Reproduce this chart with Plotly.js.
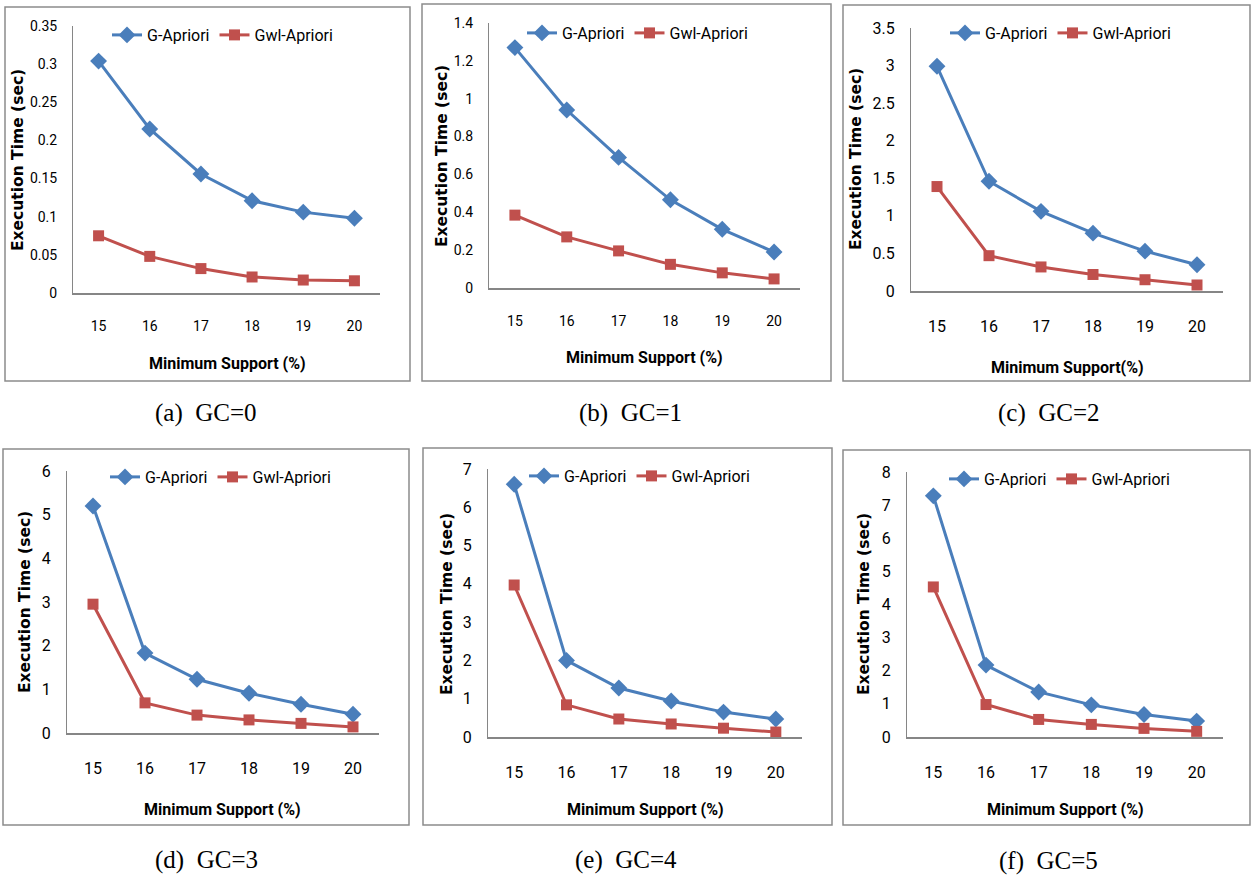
<!DOCTYPE html>
<html>
<head>
<meta charset="utf-8">
<script src="https://cdn.plot.ly/plotly-3.0.1.min.js"></script>
<style>html,body{margin:0;padding:0;background:#fff;}#chart{width:1252px;height:877px;}</style>
</head>
<body>
<div id="chart"></div>
<script>
// ---- data ----
const categories = ['15', '16', '17', '18', '19', '20'];
const seriesNames = ['G-Apriori', 'Gwl-Apriori'];
const captions = ['(a)  GC=0', '(b)  GC=1', '(c)  GC=2', '(d)  GC=3', '(e)  GC=4', '(f)  GC=5'];
const xTitles = ['Minimum Support (%)', 'Minimum Support (%)', 'Minimum Support(%)', 'Minimum Support (%)', 'Minimum Support (%)', 'Minimum Support (%)'];
const yTitle = 'Execution Time (sec)';

const gc0_G   = [0.304, 0.215, 0.156, 0.121, 0.106, 0.098];
const gc0_Gwl = [0.075, 0.048, 0.032, 0.021, 0.017, 0.016];
const gc1_G   = [1.27, 0.94, 0.69, 0.466, 0.31, 0.19];
const gc1_Gwl = [0.385, 0.27, 0.196, 0.125, 0.08, 0.048];
const gc2_G   = [2.99, 1.46, 1.06, 0.77, 0.53, 0.35];
const gc2_Gwl = [1.39, 0.47, 0.32, 0.22, 0.15, 0.08];
const gc3_G   = [5.2, 1.83, 1.23, 0.91, 0.66, 0.43];
const gc3_Gwl = [2.95, 0.69, 0.41, 0.3, 0.22, 0.14];
const gc4_G   = [6.6, 2.0, 1.28, 0.94, 0.65, 0.47];
const gc4_Gwl = [3.97, 0.84, 0.47, 0.34, 0.23, 0.13];
const gc5_G   = [7.28, 2.17, 1.36, 0.97, 0.68, 0.48];
const gc5_Gwl = [4.53, 0.98, 0.53, 0.38, 0.26, 0.17];

const yMax  = [0.35, 1.4, 3.5, 6, 7, 8];
const yStep = [0.05, 0.2, 0.5, 1, 1, 1];

const gSeries   = [gc0_G, gc1_G, gc2_G, gc3_G, gc4_G, gc5_G];
const gwlSeries = [gc0_Gwl, gc1_Gwl, gc2_Gwl, gc3_Gwl, gc4_Gwl, gc5_Gwl];

// ---- layout geometry (pixels) ----
const W = 1252, H = 877;
const panels = [
  {plot:[73,26,380,293],   box:[5,7,410,381],     leg:[107,35],  yt:[18,160],  xt:[227,363], cap:[206,413], tf:14},
  {plot:[489,23,800,288],  box:[422,4,831,381],   leg:[522,33],  yt:[442,156], xt:[644,357], cap:[630,413], tf:14},
  {plot:[911,28,1223,291], box:[843,5,1250,381],  leg:[945,33],  yt:[856,159], xt:[1067,367],cap:[1049,413],tf:16},
  {plot:[67,471,379,733],  box:[3,449,409,825],   leg:[105,477], yt:[25,602],  xt:[222,809], cap:[206,860], tf:16},
  {plot:[488,469,802,737], box:[423,448,832,825], leg:[524,476], yt:[447,604], xt:[645,809], cap:[626,860], tf:16},
  {plot:[907,472,1223,737],box:[843,450,1250,825],leg:[944,479], yt:[864,604], xt:[1065,809],cap:[1048,861],tf:16}
];

const BLUE = '#4A7EBB', RED = '#C0504D';
const narrow = '"Liberation Sans Narrow", "Arial Narrow", Roboto, sans-serif';
const px = v => v / W, py = v => 1 - v / H;

const traces = [];
const layout = {
  width: W, height: H,
  margin: {l: 0, r: 0, t: 0, b: 0},
  paper_bgcolor: '#fff', plot_bgcolor: 'rgba(0,0,0,0)',
  showlegend: true,
  shapes: [], annotations: []
};

panels.forEach((p, i) => {
  const n = i + 1;
  const xa = n === 1 ? 'x' : 'x' + n, ya = n === 1 ? 'y' : 'y' + n;
  const lg = n === 1 ? 'legend' : 'legend' + n;
  traces.push({
    x: categories, y: gSeries[i], name: seriesNames[0], type: 'scatter', mode: 'lines+markers',
    xaxis: xa, yaxis: ya, legend: lg,
    line: {color: BLUE, width: 3}, marker: {symbol: 'diamond', size: 13, color: BLUE}
  });
  traces.push({
    x: categories, y: gwlSeries[i], name: seriesNames[1], type: 'scatter', mode: 'lines+markers',
    xaxis: xa, yaxis: ya, legend: lg,
    line: {color: RED, width: 3}, marker: {symbol: 'square', size: 11, color: RED}
  });
  layout['xaxis' + (n === 1 ? '' : n)] = {
    type: 'category', domain: [px(p.plot[0]), px(p.plot[2])], range: [-0.5, 5.5],
    anchor: ya, showline: true, linecolor: '#868686', linewidth: 1.5, showgrid: false, zeroline: false,
    ticks: '', ticklabelstandoff: 20, tickfont: {family: narrow, size: p.tf, color: '#000'}, fixedrange: true
  };
  layout['yaxis' + (n === 1 ? '' : n)] = {
    domain: [py(p.plot[3]), py(p.plot[1])], range: [0, yMax[i]], dtick: yStep[i], tick0: 0,
    anchor: xa, showline: true, linecolor: '#868686', linewidth: 1, showgrid: false, zeroline: false,
    ticks: '', ticklabelstandoff: 12, tickfont: {family: narrow, size: p.tf, color: '#000'}, fixedrange: true
  };
  layout[lg] = {
    orientation: 'h', x: px(p.leg[0]), y: py(p.leg[1]), xanchor: 'left', yanchor: 'middle',
    bgcolor: 'rgba(0,0,0,0)', borderwidth: 0, font: {family: narrow, size: 16, color: '#000'},
    itemclick: false, itemdoubleclick: false, tracegroupgap: 0
  };
  layout.shapes.push({
    type: 'rect', xref: 'paper', yref: 'paper',
    x0: px(p.box[0]), x1: px(p.box[2]), y0: py(p.box[3]), y1: py(p.box[1]),
    line: {color: '#8C8C8C', width: 1.5}, fillcolor: 'rgba(0,0,0,0)', layer: 'below'
  });
  layout.annotations.push({
    text: '<b>' + yTitle + '</b>', textangle: -90, xref: 'paper', yref: 'paper',
    x: px(p.yt[0]), y: py(p.yt[1]), xanchor: 'center', yanchor: 'middle', showarrow: false,
    font: {family: '"DejaVu Sans", Verdana, sans-serif', size: 15.5, color: '#000'}
  });
  layout.annotations.push({
    text: '<b>' + xTitles[i] + '</b>', xref: 'paper', yref: 'paper',
    x: px(p.xt[0]), y: py(p.xt[1]), xanchor: 'center', yanchor: 'middle', showarrow: false,
    font: {family: narrow, size: 16, color: '#000'}
  });
  layout.annotations.push({
    text: captions[i], xref: 'paper', yref: 'paper',
    x: px(p.cap[0]), y: py(p.cap[1]), xanchor: 'center', yanchor: 'middle', showarrow: false,
    font: {family: '"Liberation Serif", "Times New Roman", serif', size: 25, color: '#000'}
  });
});

Plotly.newPlot('chart', traces, layout, {staticPlot: true, displayModeBar: false});
</script>
</body>
</html>
